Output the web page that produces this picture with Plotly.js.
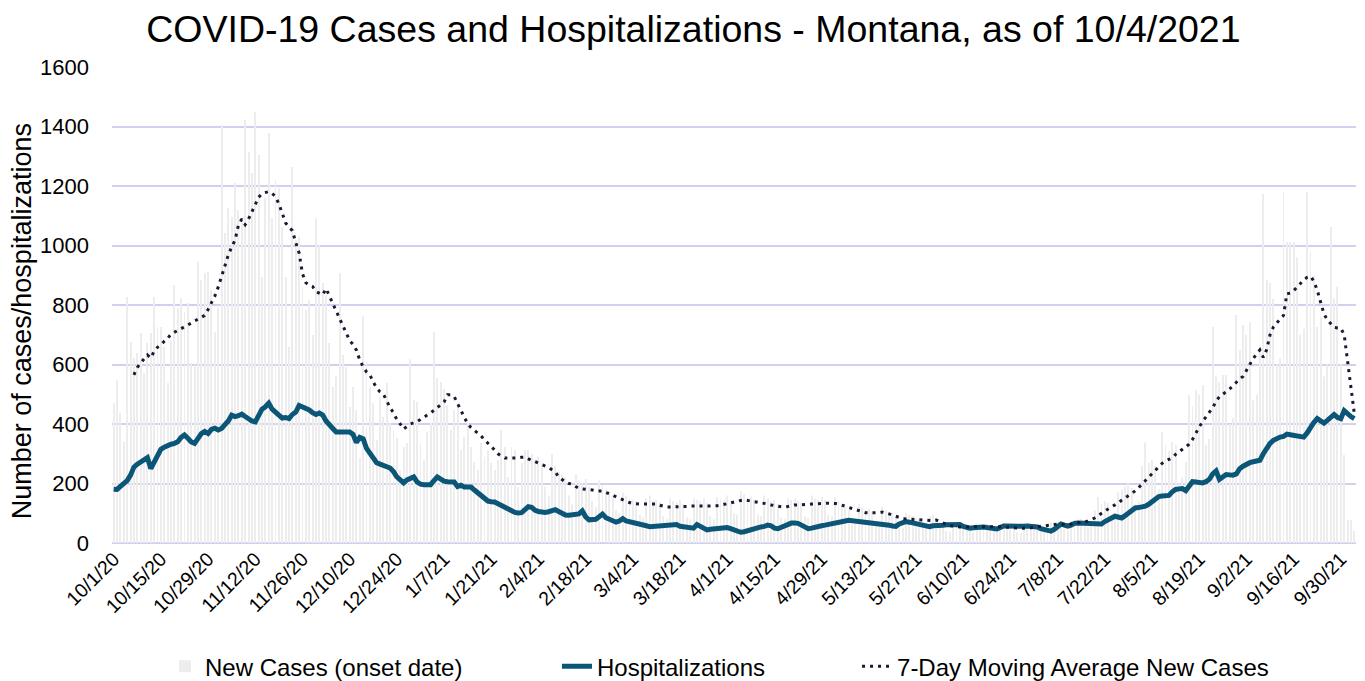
<!DOCTYPE html>
<html>
<head>
<meta charset="utf-8">
<script src="https://cdn.plot.ly/plotly-3.0.1.min.js"></script>
<style>
html,body{margin:0;padding:0;background:#fff;}
#chart{width:1365px;height:681px;}
</style>
</head>
<body>
<div id="chart"></div>
<script>
// Category labels: one per day, 10/1/20 through 10/4/21
const startDate = new Date(2020, 9, 1);
const dayCount = 369;
const dates = [];
for (let i = 0; i < dayCount; i++) {
  const d = new Date(startDate.getFullYear(), startDate.getMonth(), startDate.getDate() + i);
  dates.push((d.getMonth() + 1) + '/' + d.getDate() + '/' + String(d.getFullYear()).slice(2));
}

// Daily new cases (onset date)
const newCases = [
470,548,437,340,827,676,622,639,706,571,
672,706,827,726,726,659,538,682,867,790,
823,777,807,605,598,945,884,907,911,850,
709,794,1405,1042,1126,1096,1210,1119,1076,1422,
1314,1244,1449,1304,894,1160,1378,1092,1220,1193,
1062,894,659,1264,1018,1029,861,783,817,699,
1092,1000,874,834,672,524,561,907,632,592,
457,524,447,286,763,608,524,470,346,491,
424,538,403,380,353,245,323,336,618,481,
474,336,279,373,403,709,555,541,518,464,
380,447,470,313,356,403,323,272,245,336,
289,313,269,245,279,380,323,222,323,313,
188,269,313,313,300,280,290,270,190,160,
300,260,240,230,220,160,130,230,210,200,
215,190,140,120,210,195,180,175,160,110,
100,170,160,150,145,140,95,85,150,160,
140,145,135,90,80,150,140,135,145,130,
85,80,150,145,140,150,135,90,80,155,
150,145,160,140,100,95,175,165,150,155,
145,95,90,160,150,140,145,130,85,80,
150,145,150,140,135,90,85,160,150,145,
155,145,95,90,155,140,125,120,110,75,
70,130,120,110,115,105,70,65,120,110,
95,100,85,55,50,100,95,90,85,80,
55,50,90,95,85,70,65,40,38,70,
65,60,62,58,40,36,65,62,60,64,
58,42,40,64,60,55,56,52,36,34,
58,56,54,58,56,40,38,68,70,72,
70,62,45,42,75,78,80,82,75,55,
60,110,155,130,140,135,90,100,170,180,
190,200,185,130,140,260,339,270,280,260,
180,373,330,310,340,330,200,220,272,497,
460,514,500,531,330,350,726,560,540,565,
565,400,420,766,650,733,700,743,480,500,
640,1173,884,874,820,600,620,1180,1012,1012,
1012,960,700,720,1180,980,900,726,760,560,
600,1062,823,861,600,296,77,77,40
];

// Hospitalizations
const hospitalizations = [
181,180,190,200,210,228,255,265,272,283,
287,250,275,295,315,322,328,332,335,340,
355,363,352,340,335,350,368,375,368,382,
386,380,385,398,410,430,425,428,433,425,
415,410,407,430,450,458,470,450,440,432,
420,422,418,432,440,462,458,452,447,438,
432,437,430,410,395,385,373,372,373,374,
373,365,338,355,350,318,300,285,270,265,
260,256,252,240,222,212,202,212,218,222,
205,198,196,195,196,210,222,215,208,206,
205,205,190,194,188,186,188,178,168,162,
150,141,139,138,132,126,121,118,110,103,
101,102,112,122,120,110,106,104,103,105,
108,112,106,98,94,93,94,95,98,108,
88,78,78,80,88,97,85,80,72,70,
74,82,74,72,68,66,65,63,58,55,
56,57,57,56,58,60,58,62,56,54,
55,52,50,62,56,46,44,46,48,50,
52,54,52,48,44,40,36,38,42,44,
48,52,54,56,60,58,50,48,52,56,
64,67,67,66,60,52,48,50,54,56,
58,60,63,66,68,70,72,74,76,75,
73,72,70,68,67,66,65,66,64,62,
60,57,56,64,70,72,70,68,66,64,
60,56,55,58,60,60,60,61,62,63,
64,62,56,52,50,51,53,55,54,52,
50,48,47,52,57,57,56,57,56,57,
56,57,56,57,54,48,46,42,40,46,
54,64,60,57,60,66,67,66,65,64,
65,64,63,64,72,80,84,90,88,84,
92,102,112,118,119,121,124,130,138,146,
156,158,157,160,172,180,182,183,176,192,
206,205,203,202,206,214,232,242,214,222,
230,229,228,232,250,258,265,270,273,275,
278,300,318,335,345,352,356,358,366,364,
362,360,358,356,370,392,405,418,412,403,
412,422,432,422,418,445,432,425,418
];

// 7-day moving average of new cases (first 6 days have none)
const movingAvg = [
null,null,null,null,null,null,565,590,605,620,
632,622,645,658,666,678,688,702,708,713,
720,726,733,739,746,753,758,765,785,805,
830,860,895,935,968,995,1018,1068,1089,1070,
1089,1113,1138,1162,1175,1178,1181,1175,1165,1140,
1105,1076,1062,1050,1010,975,905,875,866,862,
845,840,834,855,830,807,785,756,732,706,
680,668,648,615,592,575,565,541,521,508,
500,478,454,438,415,400,383,392,400,404,
408,415,424,430,437,447,457,466,474,498,
498,492,470,444,425,400,388,378,368,360,
346,336,325,312,300,292,286,286,286,285,
286,288,289,283,278,274,270,264,258,254,
246,239,222,212,205,200,198,190,184,182,
181,181,178,175,175,175,170,165,161,156,
151,145,139,136,133,131,131,131,131,131,
131,131,127,124,121,121,121,121,121,122,
123,124,124,124,124,124,124,124,124,125,
127,130,133,135,138,141,143,145,143,141,
140,139,137,134,131,128,125,124,122,121,
123,126,128,128,128,129,130,131,131,131,
132,133,134,134,133,131,128,124,120,116,
112,108,104,102,101,101,101,102,104,102,
98,94,89,86,82,81,81,80,78,77,
77,76,74,75,77,72,66,61,58,57,
55,54,54,54,54,54,54,54,54,54,
54,56,56,56,55,53,52,50,50,50,
50,50,51,53,55,56,58,59,60,62,
64,63,61,60,64,67,68,69,70,74,
78,84,92,100,108,116,122,128,136,145,
152,158,166,175,186,198,210,220,233,246,
258,268,276,280,286,298,306,313,322,332,
348,370,390,408,424,436,455,476,492,500,
508,518,528,540,552,560,582,600,620,636,
649,624,650,700,726,740,752,765,838,840,
848,862,872,885,893,897,880,850,805,770,
750,736,725,723,722,700,615,530,435
];

const tickStep = 14;
const tickVals = dates.filter((d, i) => i % tickStep === 0);

const FONT = 'Liberation Sans, Arial, Helvetica, sans-serif';
const LEGEND_FONT = {family: FONT, size: 24, color: '#000000'};

const traces = [
  {
    type: 'bar', name: 'New Cases (onset date)', x: dates, y: newCases,
    marker: {color: '#ededed', line: {width: 0}}, legend: 'legend'
  },
  {
    type: 'scatter', mode: 'lines', name: 'Hospitalizations', x: dates, y: hospitalizations,
    line: {color: '#0b5577', width: 5}, legend: 'legend2'
  },
  {
    type: 'scatter', mode: 'lines', name: '7-Day Moving Average New Cases', x: dates, y: movingAvg,
    line: {color: '#1a1a33', width: 3, dash: '3px,5px'}, connectgaps: false, legend: 'legend3'
  }
];

const legendBase = {orientation: 'h', xanchor: 'left', yanchor: 'middle', y: -0.26, font: LEGEND_FONT, bgcolor: 'rgba(0,0,0,0)'};

const layout = {
  width: 1365, height: 681,
  autosize: false,
  paper_bgcolor: '#ffffff', plot_bgcolor: '#ffffff',
  font: {family: FONT, color: '#000000'},
  margin: {l: 112, r: 9, t: 67, b: 138, pad: 0, autoexpand: false},
  title: {
    text: 'COVID-19 Cases and Hospitalizations - Montana, as of 10/4/2021',
    font: {family: FONT, size: 37.5, color: '#000000'},
    x: 0.508, xref: 'container', xanchor: 'center',
    y: 0.957, yref: 'container', yanchor: 'middle'
  },
  bargap: 0.72,
  showlegend: true,
  legend: Object.assign({}, legendBase, {x: 0.0426}),
  legend2: Object.assign({}, legendBase, {x: 0.3577}),
  legend3: Object.assign({}, legendBase, {x: 0.5989}),
  xaxis: {
    type: 'category',
    tickmode: 'array', tickvals: tickVals, ticktext: tickVals,
    tickangle: -45, tickfont: {family: FONT, size: 19.5, color: '#000000'},
    showgrid: false, zeroline: false, showline: false, ticks: '',
    automargin: false
  },
  yaxis: {
    range: [0, 1600], dtick: 200, tick0: 0,
    tickfont: {family: FONT, size: 22, color: '#000000'},
    gridcolor: '#d3cff1', gridwidth: 1.5,
    zeroline: true, zerolinecolor: '#d3cff1', zerolinewidth: 2,
    showline: false, ticks: '', ticklabelstandoff: 22,
    automargin: false
  },
  annotations: [{
    text: 'Number of cases/hospitalizations',
    xref: 'paper', yref: 'paper', x: -0.0723, y: 0.466,
    xanchor: 'center', yanchor: 'middle', textangle: -90, showarrow: false,
    font: {family: FONT, size: 27, color: '#000000'}
  }]
};

Plotly.newPlot('chart', traces, layout, {displayModeBar: false, responsive: false});
</script>
</body>
</html>
